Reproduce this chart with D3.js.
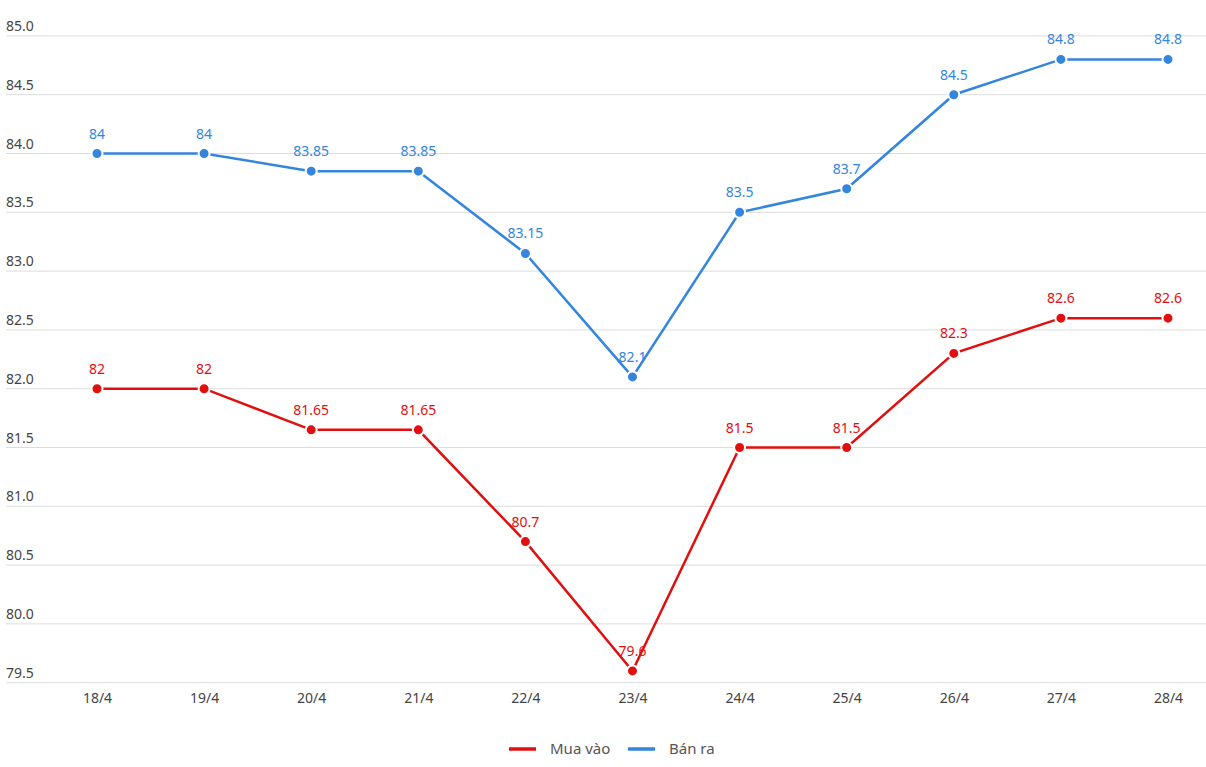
<!DOCTYPE html>
<html><head><meta charset="utf-8">
<script src="https://cdn.jsdelivr.net/npm/d3@7"></script>
<style>body{margin:0;background:#fff;}svg{display:block;font-family:"Noto Sans",sans-serif;}</style>
</head><body>
<svg id="c" width="1206" height="767"></svg>
<script>
const categories = ["18/4","19/4","20/4","21/4","22/4","23/4","24/4","25/4","26/4","27/4","28/4"];
const muaVao = [82,82,81.65,81.65,80.7,79.6,81.5,81.5,82.3,82.6,82.6];
const banRa = [84,84,83.85,83.85,83.15,82.1,83.5,83.7,84.5,84.8,84.8];
const yTicks = [79.5,80,80.5,81,81.5,82,82.5,83,83.5,84,84.5,85];
const seriesNames = ["Mua vào","Bán ra"];
const colors = ["#e10f0f","#3385de"];

const svg = d3.select("#c");
const x = d3.scalePoint().domain(categories).range([97,1168]);
const y = d3.scaleLinear().domain([79.5,85]).range([682.7,35.9]);

const grid = svg.append("g");
yTicks.forEach(t=>{
  grid.append("line").attr("x1",6).attr("x2",1206).attr("y1",y(t)).attr("y2",y(t))
    .attr("stroke","#dcdcdc").attr("stroke-width",1);
  grid.append("text").attr("x",6).attr("y",y(t)-5).text(d3.format(".1f")(t))
    .attr("font-size",14).attr("fill","#444");
});

const xAxis = svg.append("g").attr("transform","translate(0,683)")
  .call(d3.axisBottom(x).tickSize(0).tickPadding(10));
xAxis.select(".domain").remove();
xAxis.selectAll("text").attr("font-size",14).attr("fill","#444").attr("font-family","Noto Sans");

const data = [muaVao, banRa];
const line = d3.line().x((d,i)=>x(categories[i])).y(d=>y(d));
data.forEach((s,k)=>{
  const g = svg.append("g");
  g.append("path").datum(s).attr("d",line).attr("fill","none")
    .attr("stroke",colors[k]).attr("stroke-width",2.5);
  g.selectAll("circle").data(s).join("circle")
    .attr("cx",(d,i)=>x(categories[i])).attr("cy",d=>y(d)).attr("r",5.5)
    .attr("fill",colors[k]).attr("stroke","#fff").attr("stroke-width",2);
  g.selectAll("text").data(s).join("text")
    .attr("x",(d,i)=>x(categories[i])).attr("y",d=>y(d)-15)
    .attr("text-anchor","middle").attr("font-size",14).attr("fill",colors[k])
    .text(d=>d);
});

const leg = svg.append("g").attr("font-size",15).attr("fill","#555");
const legX = [509,628];
seriesNames.forEach((n,k)=>{
  leg.append("line").attr("x1",legX[k]).attr("x2",legX[k]+27).attr("y1",749).attr("y2",749)
    .attr("stroke",colors[k]).attr("stroke-width",3.5);
  leg.append("text").attr("x",legX[k]+41).attr("y",754).text(n).attr("fill","#555");
});
</script>
</body></html>
